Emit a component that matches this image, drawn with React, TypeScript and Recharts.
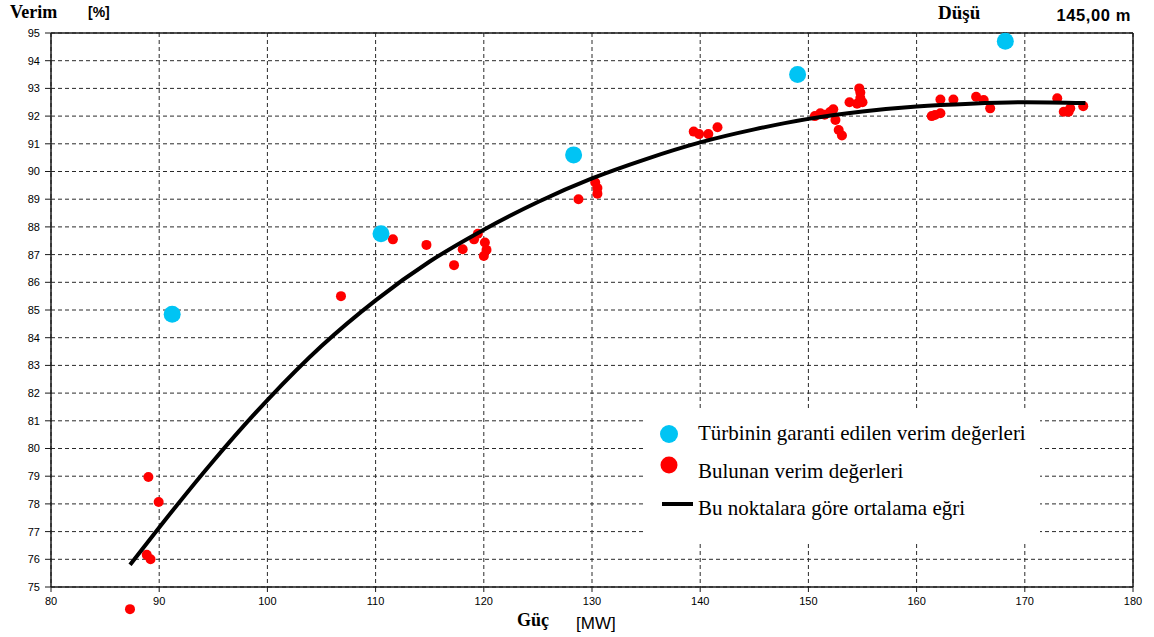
import React from 'react';
import {
  ScatterChart,
  Scatter,
  XAxis,
  YAxis,
  CartesianGrid,
  ReferenceLine,
  ReferenceDot,
} from 'recharts';

const xTicks = [80, 90, 100, 110, 120, 130, 140, 150, 160, 170, 180];
const yTicks = [75, 76, 77, 78, 79, 80, 81, 82, 83, 84, 85, 86, 87, 88, 89, 90, 91, 92, 93, 94, 95];

// Guaranteed turbine efficiency values (blue)
const guaranteedPower = [91.2, 110.5, 128.3, 149.0, 168.2];
const guaranteedEff = [84.85, 87.75, 90.6, 93.5, 94.7];

// Measured efficiency values (red)
const measuredPower = [
  87.3, 89.0, 89.95, 88.85, 89.2, 106.8, 111.6, 114.7, 117.25, 118.05,
  119.1, 119.45, 120.1, 120.25, 120.0, 128.75, 130.3, 130.5, 130.5, 139.4,
  139.9, 140.75, 141.6, 150.6, 151.1, 151.5, 152.0, 152.3, 152.5, 152.8,
  153.1, 153.8, 154.5, 154.7, 154.8, 154.8, 155.0, 161.4, 161.7, 162.2,
  162.2, 163.4, 165.5, 166.2, 166.8, 173.0, 173.6, 174.05, 174.2, 175.4,
];
const measuredEff = [
  74.2, 78.97, 78.07, 76.16, 76.0, 85.5, 87.55, 87.35, 86.62, 87.19,
  87.55, 87.75, 87.44, 87.17, 86.95, 89.0, 89.6, 89.4, 89.2, 91.44,
  91.35, 91.35, 91.6, 92.0, 92.1, 92.05, 92.15, 92.25, 91.86, 91.5,
  91.3, 92.5, 92.45, 93.0, 92.85, 92.65, 92.5, 92.0, 92.04, 92.1,
  92.6, 92.6, 92.7, 92.58, 92.28, 92.64, 92.16, 92.16, 92.28, 92.36,
];

// Average curve
const curvePower = [87.3, 90, 95, 100, 105, 110, 115, 120, 125, 130, 135, 140, 145, 150, 155, 160, 165, 170, 175.6];
const curveEff = [75.8, 77.15, 79.55, 81.75, 83.7, 85.35, 86.75, 87.9, 88.9, 89.75, 90.45, 91.05, 91.52, 91.9, 92.17, 92.35, 92.45, 92.5, 92.47];

const Y_MIN = 75;
const Y_MAX = 95;

const guaranteedData = guaranteedPower.map((x, i) => ({ x, y: guaranteedEff[i] }));
const measuredAll = measuredPower.map((x, i) => ({ x, y: measuredEff[i] }));
const measuredIn = measuredAll.filter((d) => d.y >= Y_MIN && d.y <= Y_MAX);
const measuredOut = measuredAll.filter((d) => d.y < Y_MIN || d.y > Y_MAX);
const curveData = curvePower.map((x, i) => ({ x, y: curveEff[i] }));

const RED = '#ff0000';
const BLUE = '#00c4f4';
const GRID = '#2a2a2a';
const AXIS = '#1a1a1a';

const tickStyle = { fontFamily: '"Liberation Sans", Arial, sans-serif', fontSize: 11, fill: '#000' };

const RedDot = (props: any) => <circle cx={props.cx} cy={props.cy} r={5} fill={RED} />;
const BlueDot = (props: any) => <circle cx={props.cx} cy={props.cy} r={8.5} fill={BLUE} />;
const NoDot = () => <g />;

export default function App() {
  return (
    <div style={{ position: 'absolute', left: 0, top: 0, width: 1154, height: 637, background: '#fff' }}>
      <ScatterChart width={1154} height={637} margin={{ top: 33, right: 21, left: 0, bottom: 0 }}>
        <CartesianGrid stroke={GRID} strokeDasharray="4 3" strokeWidth={1} />
        <XAxis
          type="number"
          dataKey="x"
          domain={[80, 180]}
          ticks={xTicks}
          allowDecimals={false}
          height={50}
          tick={tickStyle}
          tickSize={5}
          tickMargin={5}
          axisLine={{ stroke: AXIS, strokeWidth: 1.5 }}
          tickLine={{ stroke: AXIS }}
          interval={0}
        />
        <YAxis
          type="number"
          dataKey="y"
          domain={[Y_MIN, Y_MAX]}
          ticks={yTicks}
          width={51}
          tick={tickStyle}
          tickSize={6}
          tickMargin={5}
          axisLine={{ stroke: AXIS, strokeWidth: 1.5 }}
          tickLine={{ stroke: AXIS }}
          interval={0}
        />
        <ReferenceLine y={95} stroke={AXIS} strokeWidth={1.5} />
        <ReferenceLine x={180} stroke={AXIS} strokeWidth={1.5} />
        <Scatter data={measuredIn} shape={RedDot} isAnimationActive={false} />
        <Scatter
          data={curveData}
          shape={NoDot}
          line={{ stroke: '#000', strokeWidth: 4 }}
          lineJointType="monotoneX"
          isAnimationActive={false}
        />
        <Scatter data={guaranteedData} shape={BlueDot} isAnimationActive={false} />
        {measuredOut.map((d, i) => (
          <ReferenceDot key={i} x={d.x} y={d.y} r={5} fill={RED} stroke="none" ifOverflow="visible" />
        ))}
      </ScatterChart>
      <svg
        width={1154}
        height={637}
        style={{ position: 'absolute', left: 0, top: 0, pointerEvents: 'none' }}
      >
        <text x={10} y={18} fontFamily='"Liberation Serif", "Times New Roman", serif' fontWeight="bold" fontSize={18} fill="#000">
          Verim
        </text>
        <text x={88} y={17} fontFamily='"Liberation Sans", Arial, sans-serif' fontWeight="bold" fontSize={14} fill="#000">
          [%]
        </text>
        <text x={938} y={19} fontFamily='"Liberation Serif", "Times New Roman", serif' fontWeight="bold" fontSize={19} fill="#000">
          Düşü
        </text>
        <text x={1131} y={21} textAnchor="end" fontFamily='"Liberation Sans", Arial, sans-serif' fontWeight="bold" fontSize={16.5} letterSpacing={0.6} fill="#000">
          145,00 m
        </text>
        <text x={517} y={626} fontFamily='"Liberation Serif", "Times New Roman", serif' fontWeight="bold" fontSize={18} fill="#000">
          Güç
        </text>
        <text x={576} y={629} fontFamily='"Liberation Sans", Arial, sans-serif' fontSize={17} fill="#000">
          [MW]
        </text>

        <rect x={645} y={410} width={395} height={132} fill="#fff" />
        <circle cx={669} cy={434} r={9} fill={BLUE} />
        <text x={698} y={440} fontFamily='"Liberation Serif", "Times New Roman", serif' fontSize={21} fill="#000">
          Türbinin garanti edilen verim değerleri
        </text>
        <circle cx={669} cy={465} r={8.5} fill={RED} />
        <text x={698} y={478} fontFamily='"Liberation Serif", "Times New Roman", serif' fontSize={21} fill="#000">
          Bulunan verim değerleri
        </text>
        <line x1={662} y1={504} x2={693} y2={504} stroke="#000" strokeWidth={4} />
        <text x={698} y={515} fontFamily='"Liberation Serif", "Times New Roman", serif' fontSize={21} fill="#000">
          Bu noktalara göre ortalama eğri
        </text>
      </svg>
    </div>
  );
}
